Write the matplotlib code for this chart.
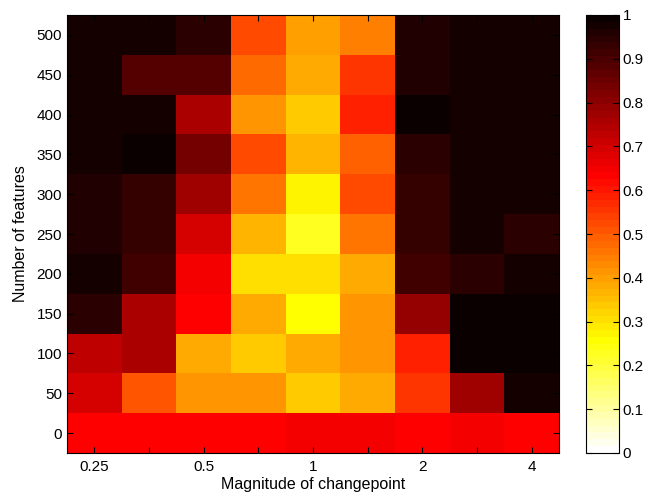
import numpy as np
import matplotlib
matplotlib.use("Agg")
import matplotlib.pyplot as plt
from matplotlib.colors import ListedColormap

plt.rcParams['font.family'] = ['Liberation Sans', 'DejaVu Sans']

# Changepoint magnitudes (half-octave steps) and feature counts
magnitudes = ['0.25', '', '0.5', '', '1', '', '2', '', '4']
n_features = [0, 50, 100, 150, 200, 250, 300, 350, 400, 450, 500]

# Detection score for each feature count (rows) and magnitude (columns)
score_0   = [0.63, 0.63, 0.63, 0.63, 0.65, 0.65, 0.63, 0.65, 0.63]
score_50  = [0.69, 0.51, 0.42, 0.42, 0.34, 0.39, 0.55, 0.78, 0.97]
score_100 = [0.73, 0.75, 0.375, 0.34, 0.39, 0.42, 0.59, 0.99, 0.99]
score_150 = [0.94, 0.76, 0.63, 0.375, 0.25, 0.42, 0.79, 0.99, 0.99]
score_200 = [0.97, 0.91, 0.65, 0.30, 0.31, 0.39, 0.91, 0.95, 0.98]
score_250 = [0.96, 0.93, 0.69, 0.36, 0.22, 0.46, 0.93, 0.97, 0.95]
score_300 = [0.96, 0.93, 0.78, 0.46, 0.28, 0.53, 0.93, 0.98, 0.98]
score_350 = [0.97, 0.99, 0.84, 0.52, 0.37, 0.49, 0.94, 0.98, 0.98]
score_400 = [0.97, 0.97, 0.76, 0.42, 0.33, 0.59, 0.99, 0.98, 0.98]
score_450 = [0.98, 0.89, 0.89, 0.48, 0.39, 0.56, 0.96, 0.98, 0.98]
score_500 = [0.98, 0.98, 0.94, 0.52, 0.40, 0.45, 0.96, 0.98, 0.98]

scores = np.array([score_0, score_50, score_100, score_150, score_200, score_250,
                   score_300, score_350, score_400, score_450, score_500])

# 64-level "hot" colormap, flipped so 0 is white and 1 is black
N = 64
n1 = int(3 / 8 * N)
r = np.concatenate([np.arange(1, n1 + 1) / n1, np.ones(N - n1)])
g = np.concatenate([np.zeros(n1), np.arange(1, n1 + 1) / n1, np.ones(N - 2 * n1)])
b = np.concatenate([np.zeros(2 * n1), np.arange(1, N - 2 * n1 + 1) / (N - 2 * n1)])
hot = np.stack([r, g, b], axis=1)
cmap = ListedColormap(hot[::-1])

fig = plt.figure(figsize=(6.46, 5.03), dpi=100)
ax = fig.add_axes([67 / 646, 50 / 503, 492 / 646, 438 / 503])
cax = fig.add_axes([586 / 646, 50 / 503, 33 / 646, 438 / 503])

ncol = len(magnitudes)
x_edges = np.arange(ncol + 1) + 0.5
y_edges = np.concatenate([[n_features[0] - 25], np.array(n_features) + 25])
mesh = ax.pcolormesh(x_edges, y_edges, scores, cmap=cmap, vmin=0, vmax=1)

ax.set_xlim(x_edges[0], x_edges[-1])
ax.set_ylim(y_edges[0], y_edges[-1])
ax.set_xticks(np.arange(1, ncol + 1))
ax.set_xticklabels(magnitudes)
ax.set_yticks(n_features)
ax.tick_params(direction='in', top=True, right=True, length=4, width=0.8,
               labelsize=11)
ax.tick_params(axis='x', pad=5)
ax.tick_params(axis='y', pad=3.5)
ax.set_xlabel('Magnitude of changepoint', fontsize=11.5, labelpad=2)
ax.set_ylabel('Number of features', fontsize=11.5, labelpad=6)
for s in ax.spines.values():
    s.set_linewidth(0.8)

cb = fig.colorbar(mesh, cax=cax)
cb.set_ticks(np.round(np.arange(0, 1.01, 0.1), 1))
cb.set_ticklabels(['0', '0.1', '0.2', '0.3', '0.4', '0.5', '0.6', '0.7', '0.8', '0.9', '1'])
cax.tick_params(direction='in', left=True, right=True, length=4, width=0.8,
                labelsize=11, pad=2.5)
cb.outline.set_linewidth(0.8)

fig.savefig('out.png', dpi=100)
